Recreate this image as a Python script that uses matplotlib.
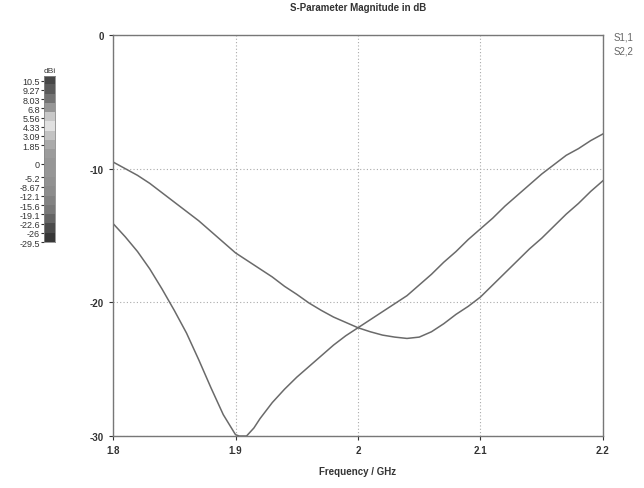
import numpy as np
import matplotlib.pyplot as plt
from matplotlib.colors import ListedColormap

# Frequency points (GHz) and magnitudes (dB)
freq_a = [1.80, 1.81, 1.82, 1.83, 1.84, 1.85, 1.86, 1.87, 1.88, 1.89, 1.90,
          1.91, 1.92, 1.93, 1.94, 1.95, 1.96, 1.97, 1.98, 1.99, 2.00,
          2.01, 2.02, 2.03, 2.04, 2.05, 2.06, 2.07, 2.08, 2.09, 2.10,
          2.11, 2.12, 2.13, 2.14, 2.15, 2.16, 2.17, 2.18, 2.19, 2.20]
s_a = [-9.5, -10.0, -10.5, -11.1, -11.8, -12.5, -13.2, -13.9, -14.7, -15.5, -16.3,
       -16.9, -17.5, -18.1, -18.8, -19.4, -20.05, -20.6, -21.1, -21.5, -21.9,
       -22.2, -22.45, -22.6, -22.7, -22.6, -22.2, -21.6, -20.9, -20.3, -19.6,
       -18.7, -17.8, -16.9, -16.0, -15.2, -14.3, -13.4, -12.6, -11.7, -10.9]

freq_b = [1.80, 1.81, 1.82, 1.83, 1.84, 1.85, 1.86, 1.87, 1.88, 1.89, 1.90,
          1.903, 1.909, 1.915, 1.92, 1.93, 1.94, 1.95, 1.96, 1.97, 1.98, 1.99, 2.00,
          2.01, 2.02, 2.03, 2.04, 2.05, 2.06, 2.07, 2.08, 2.09, 2.10,
          2.11, 2.12, 2.13, 2.14, 2.15, 2.16, 2.17, 2.18, 2.19, 2.20]
s_b = [-14.1, -15.1, -16.2, -17.5, -19.0, -20.6, -22.3, -24.3, -26.4, -28.4, -29.9,
       -30.0, -30.0, -29.4, -28.7, -27.5, -26.5, -25.6, -24.8, -24.0, -23.2, -22.5, -21.9,
       -21.3, -20.7, -20.1, -19.5, -18.7, -17.9, -17.0, -16.2, -15.3, -14.5,
       -13.7, -12.8, -12.0, -11.2, -10.4, -9.7, -9.0, -8.5, -7.9, -7.4]

legend_labels = ["S1,1", "S2,2"]

# colour scale on the left
cbar_labels = ["10.5", "9.27", "8.03", "6.8", "5.56", "4.33", "3.09", "1.85",
               "0", "-5.2", "-8.67", "-12.1", "-15.6", "-19.1", "-22.6", "-26", "-29.5"]
cbar_pos = [0, 1, 2, 3, 4, 5, 6, 7, 9, 10.5, 11.5, 12.5, 13.5, 14.5, 15.5, 16.5, 17.5]
cbar_gray = [70, 90, 115, 150, 200, 225, 195, 170, 155, 150, 150, 145, 140, 130,
             120, 100, 75, 55]

line_col = "#6a6a6a"
text_col = "#333333"
plt.rcParams["font.family"] = ["Liberation Sans", "DejaVu Sans"]

fig = plt.figure(figsize=(6.44, 4.89), dpi=100)
ax = fig.add_axes([0.1755, 0.1063, 0.7608, 0.8201])

ax.plot(freq_a, s_a, color=line_col, lw=1.1)
ax.plot(freq_b, s_b, color=line_col, lw=1.1)

ax.set_xlim(1.8, 2.2)
ax.set_ylim(-30, 0)
ax.set_xticks([1.8, 1.9, 2.0, 2.1, 2.2])
ax.set_xticklabels(["1.8", "1.9", "2", "2.1", "2.2"])
ax.set_yticks([0, -10, -20, -30])
ax.set_yticklabels(["0", "-10", "-20", "-30"])
ax.tick_params(labelsize=7, length=3, width=0.8, colors=text_col)
for lbl in ax.get_xticklabels() + ax.get_yticklabels():
    lbl.set_fontweight("bold")
ax.grid(True, linestyle=(0, (1, 2)), color="#aaaaaa", lw=0.8)
for sp in ax.spines.values():
    sp.set_color("#777777")
    sp.set_linewidth(1.0)

ax.set_title("S-Parameter Magnitude in dB", fontsize=7, fontweight="bold",
             color=text_col, pad=18)
ax.set_xlabel("Frequency / GHz", fontsize=7, fontweight="bold", color=text_col,
              labelpad=8)

fig.text(0.953, 0.918, legend_labels[0], fontsize=7, color="#666666")
fig.text(0.953, 0.888, legend_labels[1], fontsize=7, color="#666666")

# colour bar
cax = fig.add_axes([0.0683, 0.503, 0.017, 0.3395])
cmap = ListedColormap([(g / 255, g / 255, g / 255) for g in cbar_gray])
cax.imshow(np.arange(len(cbar_gray)).reshape(-1, 1), cmap=cmap, aspect="auto",
           extent=[0, 1, len(cbar_gray) - 0.5, -0.5])
cax.set_xticks([])
cax.set_yticks(cbar_pos)
cax.set_yticklabels(cbar_labels)
cax.tick_params(axis="y", labelsize=6.5, length=2, colors=text_col, pad=1)
for sp in cax.spines.values():
    sp.set_color("#888888")
    sp.set_linewidth(0.6)
cax.set_title("dBi", fontsize=6, color=text_col, pad=3)

fig.savefig("out.png", dpi=100)
